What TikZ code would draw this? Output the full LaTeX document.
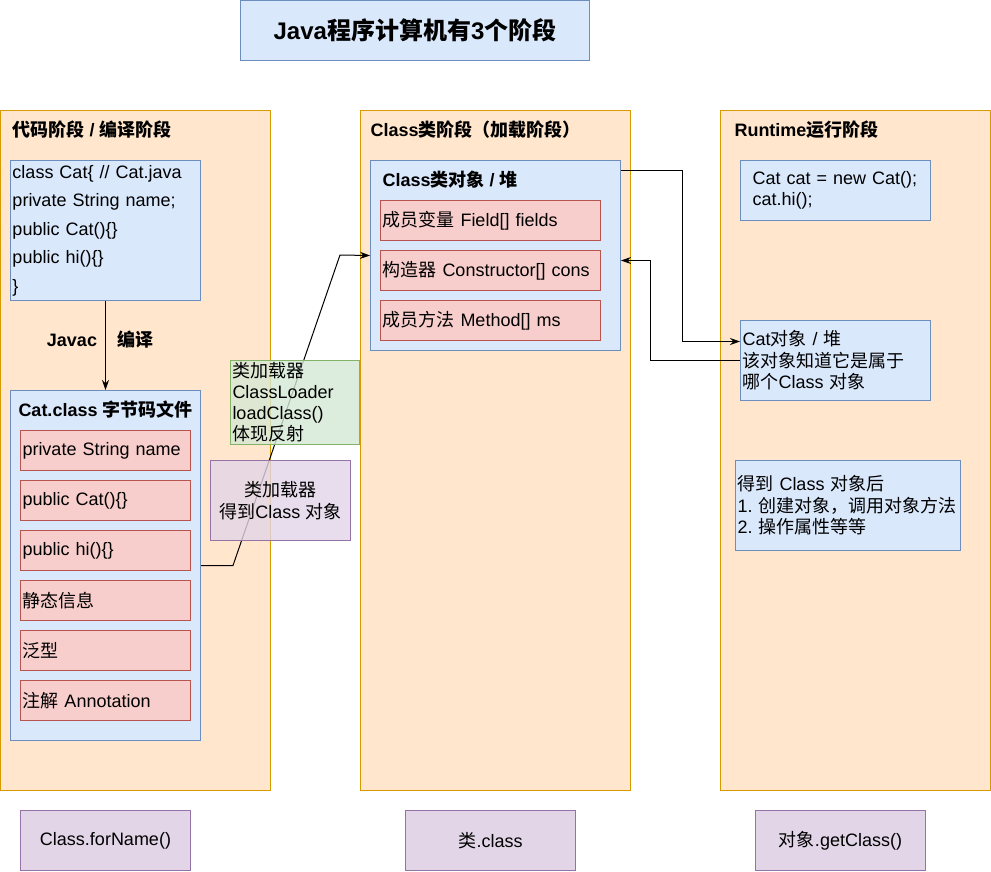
\documentclass[tikz,border=0pt]{standalone}
\usepackage{fontspec}
\setmainfont{Liberation Sans}
\newfontfamily\cjk{Noto Sans CJK SC}
\usetikzlibrary{arrows.meta,positioning}
\frenchspacing

% switch to the CJK font for runs of Chinese characters
\XeTeXinterchartokenstate=1
\newXeTeXintercharclass\cjkcls
\newcount\cjkc
\def\setcjkrange#1#2{\cjkc=#1 \loop\XeTeXcharclass\cjkc=\cjkcls \advance\cjkc by 1 \ifnum\cjkc<#2 \repeat}
\setcjkrange{"3000}{"3040}
\setcjkrange{"4E00}{"A000}
\setcjkrange{"FF00}{"FFF0}
\XeTeXinterchartoks 0 \cjkcls = {\begingroup\cjk}
\XeTeXinterchartoks 4095 \cjkcls = {\begingroup\cjk}
\XeTeXinterchartoks \cjkcls 0 = {\endgroup}
\XeTeXinterchartoks \cjkcls 4095 = {\endgroup}

% px text
\newcommand\pxfont[2]{\fontsize{#1}{#2}\selectfont}

\definecolor{bluefill}{HTML}{DAE8FC}
\definecolor{blueline}{HTML}{6C8EBF}
\definecolor{stagefill}{HTML}{FFE6CC}
\definecolor{stageline}{HTML}{D79B00}
\definecolor{redfill}{HTML}{F8CECC}
\definecolor{redline}{HTML}{B85450}
\definecolor{greenfill}{HTML}{D5E8D4}
\definecolor{greenline}{HTML}{82B366}
\definecolor{purplefill}{HTML}{E1D5E7}
\definecolor{purpleline}{HTML}{9673A6}

\begin{document}
\begin{tikzpicture}
        [x=1pt, y=-1pt, line width=1pt, font={\pxfont{18}{21.5}},
        stage/.style={rectangle, draw=stageline, fill=stagefill, anchor=north west, minimum width=270pt, minimum height=680pt},
        stagetitle/.style={anchor=west, inner sep=0pt, font={\pxfont{18}{21.5}\bfseries}},
        bluebox/.style={rectangle, draw=blueline, fill=bluefill, anchor=north west, align=left, inner sep=2pt},
        field/.style={rectangle, draw=redline, fill=redfill, anchor=north west, align=left, text width=166pt, minimum height=40pt, inner sep=2pt},
        loaderbox/.style={rectangle, fill opacity=0.8, text opacity=1, anchor=north west, inner sep=2pt},
        howto/.style={rectangle, draw=purpleline, fill=purplefill, anchor=north west, minimum width=170pt, minimum height=60pt},
        arr/.style={-{Stealth[length=10pt,width=7pt]}}]
        \useasboundingbox (0,0) rectangle (991,871);

        \node[bluebox, minimum width=349pt, minimum height=60pt, align=center, font={\pxfont{24}{28}\bfseries}] (title) at (240,0) {Java程序计算机有3个阶段};

        % three stages
        \node[stage] (code) at (0,110) {};
        \node[stage] (load) at (360,110) {};
        \node[stage] (run) at (720,110) {};
        \node[stagetitle] (codetitle) at (12,130) {代码阶段 / 编译阶段};
        \node[stagetitle] (loadtitle) at (370,130) {Class类阶段（加载阶段）};
        \node[stagetitle] (runtitle) at (734,130) {Runtime运行阶段};

        % code stage
        \node[bluebox, text width=186pt, minimum height=140pt, font={\pxfont{18}{28.5}}] (src) at (10,160)
            {class Cat\{ // Cat.java\\private String name;\\public Cat()\{\}\\public hi()\{\}\\\}};
        \node[bluebox, minimum width=190pt, minimum height=350pt] (bytecode) at (10,390) {};
        \node[stagetitle] (bytecodetitle) at (18,410) {Cat.class 字节码文件};
        \node[field] (f1) at (20,430) {private String name};
        \node[field] (f2) at (20,480) {public Cat()\{\}};
        \node[field] (f3) at (20,530) {public hi()\{\}};
        \node[field] (f4) at (20,580) {静态信息};
        \node[field] (f5) at (20,630) {泛型};
        \node[field] (f6) at (20,680) {注解 Annotation};
        \draw[arr] (src) -- (bytecode);
        \node[font={\pxfont{18}{21.5}\bfseries}] (javac) at (72,340) {Javac};
        \node[font={\pxfont{18}{21.5}\bfseries}] (compile) at (135,340) {编译};

        % class stage
        \node[bluebox, minimum width=250pt, minimum height=190pt] (clsobj) at (370,160) {};
        \node[stagetitle] (clsobjtitle) at (382,180) {Class类对象 / 堆};
        \node[field, text width=216pt] (m1) at (380,200) {成员变量 Field[] fields};
        \node[field, text width=216pt] (m2) at (380,250) {构造器 Constructor[] cons};
        \node[field, text width=216pt] (m3) at (380,300) {成员方法 Method[] ms};

        % runtime stage
        \node[bluebox, text width=166pt, minimum height=60pt, inner xsep=12pt] (newcat) at (740,160) {Cat cat = new Cat();\\cat.hi();};
        \node[bluebox, text width=186pt, minimum height=80pt] (catobj) at (740,320) {Cat对象 / 堆\\该对象知道它是属于\\哪个Class 对象};
        \node[bluebox, text width=221pt, minimum height=90pt] (usage) at (735,460)
            {得到 Class 对象后\\\mbox{1. 创建对象，调用对象方法}\\2. 操作属性等等\\[8pt]};

        % connectors
        \draw[arr] (bytecode.east) -- ++(32,0) -- (340,255) -- (clsobj.west);
        \draw[arr] ([yshift=-10pt]clsobj.north east) -- ++(61,0) |- ([yshift=19pt]catobj.west);
        \draw[arr] (catobj.west) -- ++(-90,0) |- ([yshift=-5pt]clsobj.east);

        % class loader
        \node[loaderbox, draw=greenline, fill=greenfill, text width=125pt, minimum height=80pt, align=left, font={\pxfont{18}{21}}] (loader) at (230,360)
            {类加载器\\ClassLoader\\loadClass()\\体现反射};
        \node[loaderbox, draw=purpleline, fill=purplefill, minimum width=140pt, minimum height=80pt, align=center] (getclass) at (210,460)
            {类加载器\\得到Class 对象};

        % three ways
        \node[howto] (forname) at (20,810) {Class.forName()};
        \node[howto] (dotclass) at (405,810) {类.class};
        \node[howto] (getcls) at (755,810) {对象.getClass()};
    \end{tikzpicture}
\end{document}
